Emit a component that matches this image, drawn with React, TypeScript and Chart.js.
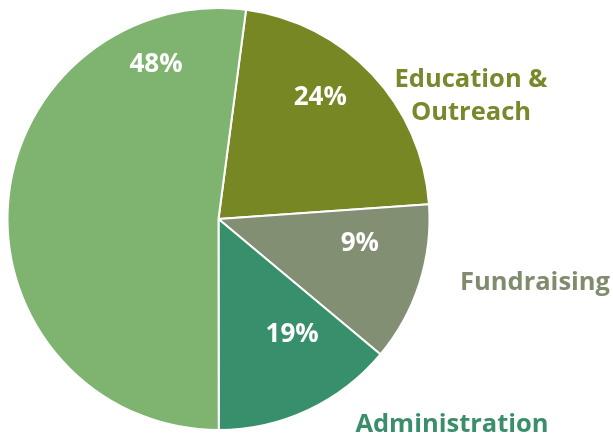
import React, { useEffect, useRef } from "react";
import { Chart, registerables } from "chart.js";

Chart.register(...registerables);

const categories = ["Education & Outreach", "Fundraising", "Administration", "Land Conservation"];
const shares = [21.8, 12.2, 13.9, 52.1];
const percentLabels = ["24%", "9%", "19%", "48%"];
const sliceColors = ["#778723", "#828f73", "#378f6b", "#7fb370"];
const nameColors = ["#77892a", "#7f8d6e", "#3a8f6a", "#7fb370"];

// label placement: percent labels inside slices (angle from top, clockwise, radius fraction)
const pctPlacement = [
  { angle: 40, r: 0.75 },
  { angle: 100, r: 0.68 },
  { angle: 147.5, r: 0.65 },
  { angle: 338, r: 0.79 },
];
// category name placement (page pixels, alphabetic baseline)
const namePlacement = [
  { x: 471, ys: [87, 120] },
  { x: 535, ys: [290] },
  { x: 452, ys: [432] },
  { x: 150, ys: [-0.5] },
];

const labelPlugin = {
  id: "pieLabels",
  afterDatasetsDraw(chart: any) {
    const ctx = chart.ctx;
    const meta = chart.getDatasetMeta(0);
    const arc = meta.data[0];
    if (!arc) return;
    const cx = arc.x;
    const cy = arc.y;
    const R = arc.outerRadius;
    ctx.save();
    ctx.textAlign = "center";
    ctx.textBaseline = "middle";
    ctx.fillStyle = "#ffffff";
    ctx.font = "700 26px 'Open Sans', 'Noto Sans', sans-serif";
    percentLabels.forEach((t, i) => {
      const p = pctPlacement[i];
      const a = (p.angle * Math.PI) / 180;
      ctx.fillText(t, cx + Math.sin(a) * R * p.r, cy - Math.cos(a) * R * p.r);
    });
    ctx.textBaseline = "alphabetic";
    ctx.font = "700 25.5px 'Open Sans', 'Noto Sans', sans-serif";
    categories.forEach((name, i) => {
      const pl = namePlacement[i];
      ctx.fillStyle = nameColors[i];
      const lines = name === "Education & Outreach" ? ["Education &", "Outreach"] : [name];
      lines.forEach((ln, j) => ctx.fillText(ln, pl.x, pl.ys[j]));
    });
    ctx.restore();
  },
};

export default function App() {
  const ref = useRef<HTMLCanvasElement | null>(null);
  useEffect(() => {
    if (!ref.current) return;
    const chart = new Chart(ref.current, {
      type: "pie",
      data: {
        labels: categories,
        datasets: [
          {
            data: shares,
            backgroundColor: sliceColors,
            borderColor: "#ffffff",
            borderWidth: 2,
          },
        ],
      },
      options: {
        responsive: false,
        animation: false,
        rotation: 7.5,
        layout: { padding: { left: 6, top: 7, right: 182, bottom: 5 } },
        plugins: {
          legend: { display: false },
          tooltip: { enabled: false },
        },
      },
      plugins: [labelPlugin],
    });
    return () => chart.destroy();
  }, []);
  return (
    <div style={{ position: "fixed", left: 0, top: 0, width: 613, height: 436, background: "#fff" }}>
      <canvas ref={ref} width={613} height={436} style={{ width: 613, height: 436 }} />
    </div>
  );
}
